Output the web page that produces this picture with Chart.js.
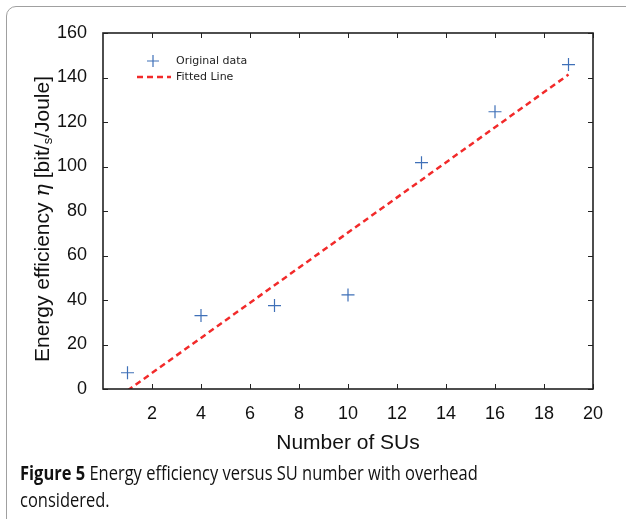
<!DOCTYPE html>
<html>
<head>
<meta charset="utf-8">
<script src="https://cdn.jsdelivr.net/npm/chart.js@4.4.0/dist/chart.umd.min.js"></script>
<style>
  html, body { margin: 0; padding: 0; background: #fff; }
  #wrap { position: relative; width: 626px; height: 519px; overflow: hidden; }
  #frame {
    position: absolute; left: 6px; top: 6px; width: 700px; height: 600px;
    border: 1.5px solid #a0a0a0; border-top-left-radius: 10px;
  }
  #chart { position: absolute; left: 0; top: 0; }
  #caption {
    position: absolute; left: 20px; top: 459px; width: 700px;
    font-family: "Open Sans", sans-serif; font-size: 19.5px; line-height: 27px;
    color: #111; white-space: nowrap;
    transform: scaleX(0.845); transform-origin: left top;
  }
  #caption b { font-weight: 700; }
</style>
</head>
<body>
<div id="wrap">
  <div id="frame"></div>
  <canvas id="chart" width="626" height="460"></canvas>
  <div id="caption"><b>Figure 5</b> Energy efficiency versus SU number with overhead<br>considered.</div>
</div>
<script>
// ==========================
// Data
// ==========================

const suNumbers = [1, 4, 7, 10, 13, 16, 19];
const efficiency = [7.3, 33, 37.5, 42.3, 101.7, 124.6, 145.8];

// least squares line, end points
const fitX = [1, 19];
const fitY = [-0.7, 141.3];

const xTicks = [2, 4, 6, 8, 10, 12, 14, 16, 18, 20];
const yTicks = [0, 20, 40, 60, 80, 100, 120, 140, 160];

const blue = "#3f70b8";
const red = "#f22a2a";
const axisColor = "#222";

// ==========================
// Frame, inward ticks, legend, y title
// ==========================

const framePlugin = {
    id: "frame",
    afterDatasetsDraw(chart) {
        const ctx = chart.ctx;
        const a = chart.chartArea;
        const xs = chart.scales.x;
        const ys = chart.scales.y;
        const len = 5;

        ctx.save();
        ctx.strokeStyle = axisColor;
        ctx.lineWidth = 1;

        xTicks.forEach(v => {
            const px = Math.round(xs.getPixelForValue(v)) + 0.5;
            ctx.beginPath();
            ctx.moveTo(px, a.bottom); ctx.lineTo(px, a.bottom - len);
            ctx.moveTo(px, a.top); ctx.lineTo(px, a.top + len);
            ctx.stroke();
        });

        yTicks.forEach(v => {
            const py = Math.round(ys.getPixelForValue(v)) + 0.5;
            ctx.beginPath();
            ctx.moveTo(a.left, py); ctx.lineTo(a.left + len, py);
            ctx.moveTo(a.right, py); ctx.lineTo(a.right - len, py);
            ctx.stroke();
        });

        ctx.lineWidth = 1.6;
        ctx.strokeRect(a.left, a.top, a.right - a.left, a.bottom - a.top);

        // legend
        const lx = a.left + 50;
        const ly = a.top + 28;
        ctx.strokeStyle = blue;
        ctx.lineWidth = 1.2;
        ctx.beginPath();
        ctx.moveTo(lx - 6, ly); ctx.lineTo(lx + 6, ly);
        ctx.moveTo(lx, ly - 6); ctx.lineTo(lx, ly + 6);
        ctx.stroke();

        ctx.strokeStyle = red;
        ctx.lineWidth = 2.5;
        ctx.setLineDash([6, 4]);
        ctx.beginPath();
        ctx.moveTo(a.left + 34, ly + 16); ctx.lineTo(a.left + 68, ly + 16);
        ctx.stroke();
        ctx.setLineDash([]);

        ctx.fillStyle = "#222";
        ctx.font = "11px 'DejaVu Sans'";
        ctx.textBaseline = "middle";
        ctx.textAlign = "left";
        ctx.fillText("Original data", a.left + 73, ly);
        ctx.fillText("Fitted Line", a.left + 73, ly + 16);

        // y axis title with italic eta and small s
        ctx.translate(42, (a.top + a.bottom) / 2 + 8);
        ctx.rotate(-Math.PI / 2);
        const parts = [
            ["21px 'Liberation Sans'", "Energy efficiency ", 0],
            ["italic 21px 'DejaVu Serif'", "\u03b7", 0],
            ["21px 'Liberation Sans'", " [bit/", 0],
            ["13px 'Liberation Sans'", "s", 3],
            ["21px 'Liberation Sans'", "/Joule]", 0]
        ];
        let total = 0;
        parts.forEach(p => { ctx.font = p[0]; total += ctx.measureText(p[1]).width; });
        let cx = -total / 2;
        ctx.fillStyle = "#111";
        ctx.textBaseline = "alphabetic";
        parts.forEach(p => {
            ctx.font = p[0];
            ctx.fillText(p[1], cx, 7 + p[2]);
            cx += ctx.measureText(p[1]).width;
        });
        ctx.restore();
    }
};

// ==========================
// Chart
// ==========================

new Chart(document.getElementById("chart"), {
    type: "scatter",
    data: {
        datasets: [
            {
                label: "Original data",
                data: suNumbers.map((x, i) => ({ x: x, y: efficiency[i] })),
                pointStyle: "cross",
                pointRadius: 6.5,
                borderColor: blue,
                backgroundColor: blue,
                borderWidth: 1.2
            },
            {
                label: "Fitted Line",
                type: "line",
                data: fitX.map((x, i) => ({ x: x, y: fitY[i] })),
                borderColor: red,
                borderWidth: 2.5,
                borderDash: [6, 4],
                pointRadius: 0,
                fill: false,
                clip: 0,
                order: -1
            }
        ]
    },
    options: {
        responsive: false,
        animation: false,
        layout: { padding: { left: 0, top: 33, right: 33, bottom: 0 } },
        plugins: {
            legend: { display: false },
            tooltip: { enabled: false }
        },
        scales: {
            x: {
                type: "linear",
                min: 0,
                max: 20,
                afterBuildTicks: s => { s.ticks = xTicks.map(v => ({ value: v })); },
                afterFit: s => { s.height = 71; },
                grid: { display: false },
                border: { display: false },
                ticks: {
                    color: "#111",
                    padding: 6,
                    font: { family: "Liberation Sans", size: 18 }
                },
                title: {
                    display: true,
                    text: "Number of SUs",
                    color: "#111",
                    padding: { top: 4 },
                    font: { family: "Liberation Sans", size: 21 }
                }
            },
            y: {
                min: 0,
                max: 160,
                afterBuildTicks: s => { s.ticks = yTicks.map(v => ({ value: v })); },
                afterFit: s => { s.width = 103; },
                grid: { display: false },
                border: { display: false },
                ticks: {
                    color: "#111",
                    padding: 8,
                    font: { family: "Liberation Sans", size: 18 }
                }
            }
        }
    },
    plugins: [framePlugin]
});
</script>
</body>
</html>
